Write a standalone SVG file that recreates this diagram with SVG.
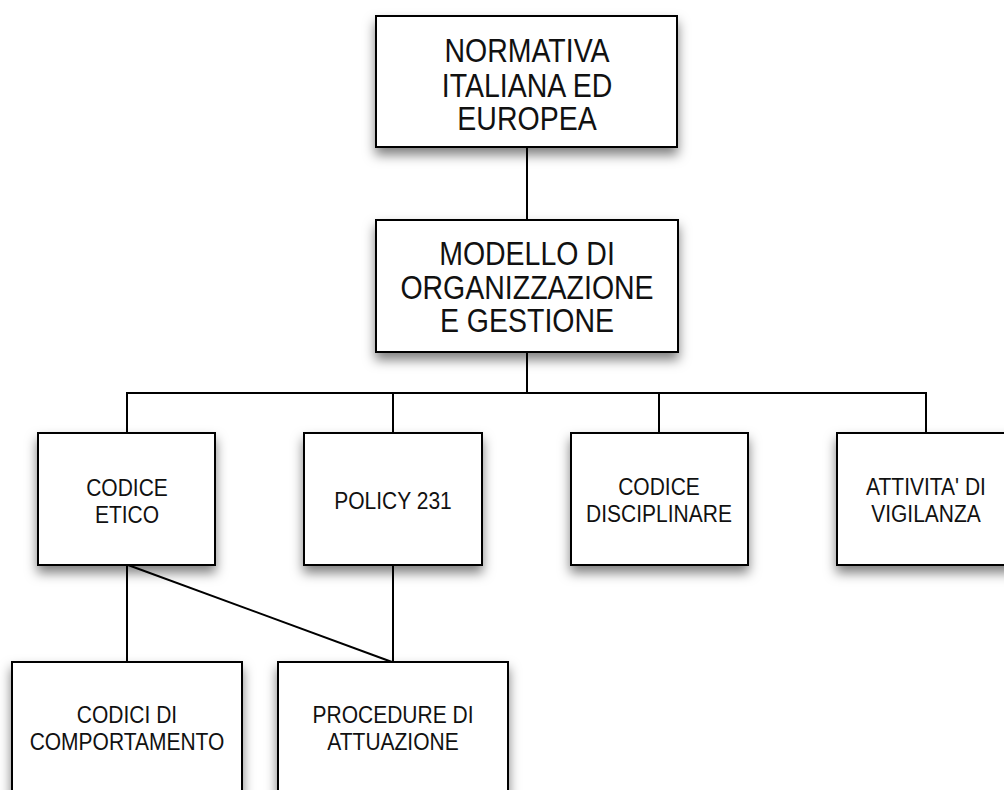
<svg xmlns="http://www.w3.org/2000/svg" width="1004" height="790" viewBox="0 0 1004 790">
<defs>
<filter id="sh" x="-20%" y="-20%" width="140%" height="150%">
<feDropShadow dx="0" dy="7" stdDeviation="6" flood-color="#000" flood-opacity="0.5"/>
</filter>
<style>
.box{fill:#fff;stroke:#000;stroke-width:2;filter:url(#sh)}
.big{font-family:"Liberation Sans",Arial,sans-serif;font-size:28.5px;fill:#111;text-anchor:middle}
.sm{font-family:"Liberation Sans",Arial,sans-serif;font-size:21px;fill:#111;text-anchor:middle}
.ln{stroke:#000;stroke-width:2;fill:none}
</style>
</defs>
<rect width="1004" height="790" fill="#fff"/>
<g id="connectors">
<line class="ln" x1="527" y1="147" x2="527" y2="220"/>
<line class="ln" x1="527" y1="352" x2="527" y2="393"/>
<polyline class="ln" points="127,433 127,393 926,393 926,433"/>
<line class="ln" x1="393" y1="393" x2="393" y2="433"/>
<line class="ln" x1="659" y1="393" x2="659" y2="433"/>
<line class="ln" x1="127" y1="565" x2="127" y2="662"/>
<line class="ln" x1="128" y1="565" x2="392" y2="662"/>
<line class="ln" x1="393" y1="565" x2="393" y2="662"/>
</g>
<g id="n-normativa">
<rect class="box" x="376" y="16" width="301" height="131"/>
<text class="big" transform="translate(527,62) scale(1,1.14)">NORMATIVA</text>
<text class="big" transform="translate(527,97) scale(1,1.14)">ITALIANA ED</text>
<text class="big" transform="translate(527,130) scale(1,1.14)">EUROPEA</text>
</g>
<g id="n-modello">
<rect class="box" x="376" y="220" width="302" height="132"/>
<text class="big" transform="translate(527,265) scale(1,1.14)">MODELLO DI</text>
<text class="big" transform="translate(527,299) scale(1,1.14)">ORGANIZZAZIONE</text>
<text class="big" transform="translate(527,332) scale(1,1.14)">E GESTIONE</text>
</g>
<g id="n-codice-etico">
<rect class="box" x="38" y="433" width="177" height="132"/>
<text class="sm" transform="translate(127,496) scale(1,1.1)">CODICE</text>
<text class="sm" transform="translate(127,523) scale(1,1.1)">ETICO</text>
</g>
<g id="n-policy">
<rect class="box" x="304" y="433" width="178" height="132"/>
<text class="sm" transform="translate(393,509) scale(1,1.1)">POLICY 231</text>
</g>
<g id="n-disciplinare">
<rect class="box" x="571" y="433" width="177" height="132"/>
<text class="sm" transform="translate(659,495) scale(1,1.1)">CODICE</text>
<text class="sm" transform="translate(659,522) scale(1,1.1)">DISCIPLINARE</text>
</g>
<g id="n-vigilanza">
<rect class="box" x="837" y="433" width="178" height="132"/>
<text class="sm" transform="translate(926,495) scale(1,1.1)">ATTIVITA' DI</text>
<text class="sm" transform="translate(926,522) scale(1,1.1)">VIGILANZA</text>
</g>
<g id="n-comportamento">
<rect class="box" x="12" y="662" width="230" height="150"/>
<text class="sm" transform="translate(127,723) scale(1,1.1)">CODICI DI</text>
<text class="sm" transform="translate(127,750) scale(1,1.1)">COMPORTAMENTO</text>
</g>
<g id="n-procedure">
<rect class="box" x="278" y="662" width="230" height="150"/>
<text class="sm" transform="translate(393,723) scale(1,1.1)">PROCEDURE DI</text>
<text class="sm" transform="translate(393,750) scale(1,1.1)">ATTUAZIONE</text>
</g>
</svg>
